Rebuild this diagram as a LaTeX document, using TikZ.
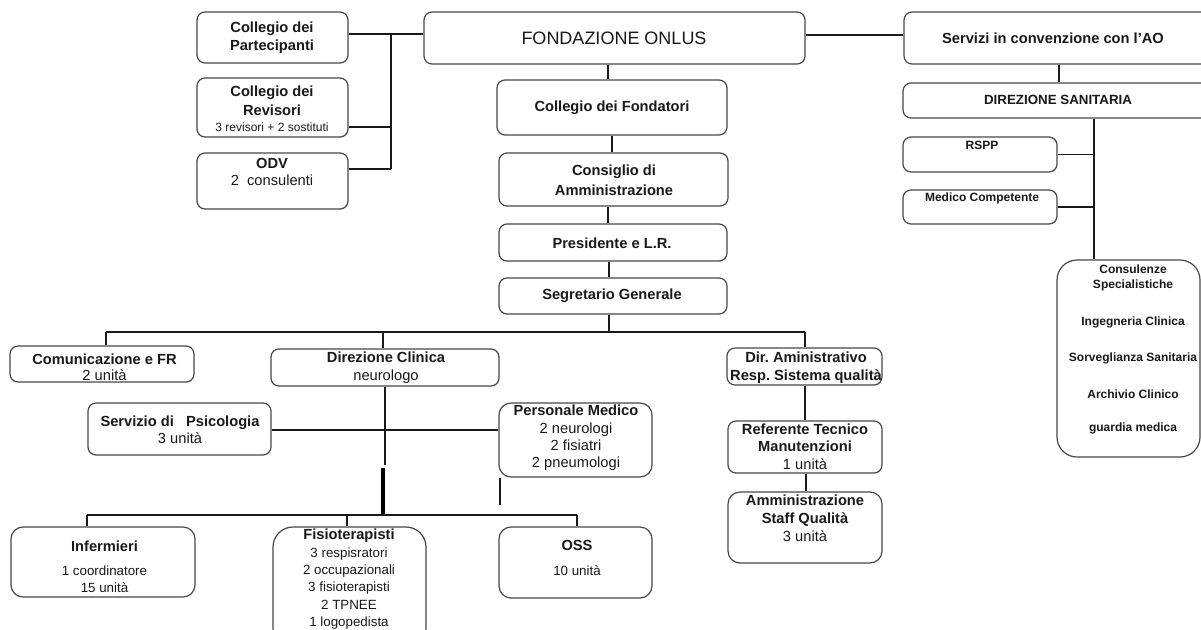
\documentclass[tikz,border=0pt]{standalone}
\usepackage{fontspec}
\setmainfont{Liberation Sans}
\usetikzlibrary{fit}
\newcommand\txB[1]{\fontsize{11}{#1}\selectfont\bfseries}
\newcommand\txR[1]{\fontsize{11}{#1}\selectfont}
\newcommand\txS[1]{\fontsize{10}{#1}\selectfont}
\newcommand\txT[1]{\fontsize{9}{#1}\selectfont\bfseries}
\begin{document}
\begin{tikzpicture}[x=0.75pt,y=-0.75pt,
  box/.style={draw=black!72, line width=0.9pt, rounded corners=6pt, inner sep=0pt},
  rbox/.style={box, rounded corners=9pt},
  bigr/.style={box, rounded corners=15pt},
  conn/.style={draw=black!90, line width=0.9pt},
  heavyconn/.style={draw=black, line width=3pt},
  txt/.style={align=center, inner sep=0pt, text=black!90}]
\useasboundingbox (0,0) rectangle (1201,629);
\fill[white] (0,0) rectangle (1201,629);
% boxes
\node[box, fit={(197,12) (348,63)}] (part) {};
\node[box, fit={(197,78) (348,137)}] (rev) {};
\node[box, fit={(197,153) (348,209)}] (odv) {};
\node[box, fit={(424,12) (805,64)}] (fond) {};
\node[box, fit={(904,12) (1220,64)}] (serv) {};
\node[box, fit={(903,83) (1220,118)}] (dirs) {};
\node[box, fit={(903,137) (1057,172)}] (rspp) {};
\node[box, fit={(903,190) (1057,224)}] (medc) {};
\node[bigr, fit={(1057,260) (1200,457)}] (cons) {};
\node[box, fit={(497,80) (727,135)}] (colf) {};
\node[box, fit={(499,153) (728,206)}] (cda) {};
\node[box, fit={(499,224) (727,261)}] (pres) {};
\node[box, fit={(499,278) (727,314)}] (seg) {};
\node[box, fit={(10,346) (194,382)}] (com) {};
\node[box, fit={(271,349) (499,386)}] (dircl) {};
\node[box, fit={(727,348) (882,385)}] (diram) {};
\node[box, fit={(88,403) (271,455)}] (psi) {};
\node[rbox, fit={(499,403) (652,477)}] (pmed) {};
\node[box, fit={(728,421) (882,473)}] (reft) {};
\node[rbox, fit={(728,492) (882,563)}] (amm) {};
\node[rbox, fit={(11,527) (195,597)}] (inf) {};
\node[bigr, fit={(273,527) (426,648)}] (fis) {};
\node[rbox, fit={(499,527) (652,598)}] (oss) {};
% connectors - left group
\coordinate (lb1) at (391,34);
\coordinate (lbr) at (391,127);
\coordinate (lb2) at (391,169);
\draw[conn] (part.east |- lb1) -- (fond.west |- lb1);
\draw[conn] (lb1) -- (lb2);
\draw[conn] (rev.east |- lbr) -- (lbr);
\draw[conn] (odv.east |- lb2) -- (lb2);
% fondazione to servizi
\coordinate (sv) at (850,35);
\draw[conn] (fond.east |- sv) -- (serv.west |- sv);
% middle column
\coordinate (m1) at (608,70);
\draw[conn] (fond.south -| m1) -- (colf.north -| m1);
\coordinate (m2) at (612,140);
\draw[conn] (colf.south -| m2) -- (cda.north -| m2);
\coordinate (m3) at (608,215);
\draw[conn] (cda.south -| m3) -- (pres.north -| m3);
\coordinate (m4) at (609,270);
\draw[conn] (pres.south -| m4) -- (seg.north -| m4);
\coordinate (bus) at (609,332);
\draw[conn] (seg.south -| bus) -- (bus);
\coordinate (busL) at (106,332);
\coordinate (busC) at (383,332);
\coordinate (busR) at (805,332);
\draw[conn] (busL) -- (busR);
\draw[conn] (busL) -- (com.north -| busL);
\draw[conn] (busC) -- (dircl.north -| busC);
\draw[conn] (busR) -- (diram.north -| busR);
\draw[conn] (diram.south -| busR) -- (reft.north -| busR);
\coordinate (m5) at (806,480);
\draw[conn] (reft.south -| m5) -- (amm.north -| m5);
% direzione clinica group
\coordinate (dc1) at (385,465);
\draw[conn] (dircl.south -| dc1) -- (dc1);
\coordinate (psl) at (300,430);
\draw[conn] (psi.east |- psl) -- (pmed.west |- psl);
\coordinate (tk1) at (383,468);
\coordinate (tk2) at (383,514);
\draw[heavyconn] (tk1) -- (tk2);
\coordinate (pd) at (500,505);
\draw[conn] (pmed.south -| pd) -- (pd);
\coordinate (bbL) at (87,515);
\coordinate (bbC) at (347,515);
\coordinate (bbR) at (577,515);
\draw[conn] (bbL) -- (bbR);
\draw[conn] (bbL) -- (inf.north -| bbL);
\draw[conn] (bbC) -- (fis.north -| bbC);
\draw[conn] (bbR) -- (oss.north -| bbR);
% right group
\coordinate (sd) at (1059,70);
\draw[conn] (serv.south -| sd) -- (dirs.north -| sd);
\coordinate (rb) at (1094,150);
\draw[conn] (dirs.south -| rb) -- (cons.north -| rb);
\draw[conn] (rspp.east) -- (rspp.east -| rb);
\draw[conn] (medc.east) -- (medc.east -| rb);
% texts
\node[txt, font=\txB{13.5}] at (272,38) {Collegio dei\\Partecipanti};
\node[txt, font=\txB{14.25}] at (272,100.5) {Collegio dei\\Revisori};
\node[txt, font=\fontsize{9}{10}\selectfont] at (272,127) {3 revisori + 2 sostituti};
\node[txt, font=\txR{12.75}] at (272,171.5) {\bfseries ODV\\2\ \ consulenti};
\node[txt, font=\fontsize{13.5}{16}\selectfont] at (614,38) {FONDAZIONE ONLUS};
\node[txt, font=\txB{13}] at (1053,38) {Servizi in convenzione con l'AO};
\node[txt, font=\fontsize{10}{12}\selectfont\bfseries] at (1058,100) {DIREZIONE SANITARIA};
\node[txt, font=\txT{11}] at (982,145) {RSPP};
\node[txt, font=\txT{11}] at (982,198) {Medico Competente};
\node[txt, font=\txT{11.25}] at (1133,277.5) {Consulenze\\Specialistiche};
\node[txt, font=\txT{11}] at (1133,322) {Ingegneria Clinica};
\node[txt, font=\txT{11}] at (1133,358) {Sorveglianza Sanitaria};
\node[txt, font=\txT{11}] at (1133,394) {Archivio Clinico};
\node[txt, font=\txT{11}] at (1133,428) {guardia medica};
\node[txt, font=\txB{13}] at (612,108) {Collegio dei Fondatori};
\node[txt, font=\txB{15}] at (614,180) {Consiglio di\\Amministrazione};
\node[txt, font=\txB{13}] at (612,243) {Presidente e L.R.};
\node[txt, font=\txB{13}] at (612,296) {Segretario Generale};
\node[txt, font=\txB{12}] at (104.5,367) {Comunicazione e FR\\\mdseries 2 unità};
\node[txt, font=\txB{13.5}] at (386,368) {Direzione Clinica\\\mdseries neurologo};
\node[txt, font=\txB{13.5}] at (806,368) {Dir.\ Aministrativo\\Resp.\ Sistema qualità};
\node[txt, font=\txB{12.75}] at (180,429.5) {Servizio di\ \ \ Psicologia\\\mdseries 3 unità};
\node[txt, font=\txB{13}] at (576,438) {Personale Medico\\\mdseries 2 neurologi\\\mdseries 2 fisiatri\\\mdseries 2 pneumologi};
\node[txt, font=\txB{13}] at (805,446.5) {Referente Tecnico\\Manutenzioni\\\mdseries 1 unità};
\node[txt, font=\txB{13.5}] at (805,518) {Amministrazione\\Staff Qualità\\\mdseries 3 unità};
\node[txt, font=\txB{13}] at (104.5,546) {Infermieri};
\node[txt, font=\txS{12.75}] at (104.5,579.5) {1 coordinatore\\15 unità};
\node[txt, font=\txB{13}] at (349,536) {Fisioterapisti};
\node[txt, font=\txS{13}] at (349,588.5) {3 respisratori\\2 occupazionali\\3 fisioterapisti\\2 TPNEE\\1 logopedista};
\node[txt, font=\txB{13}] at (577,545) {OSS};
\node[txt, font=\txS{12}] at (577,571) {10 unità};
\end{tikzpicture}
\end{document}
